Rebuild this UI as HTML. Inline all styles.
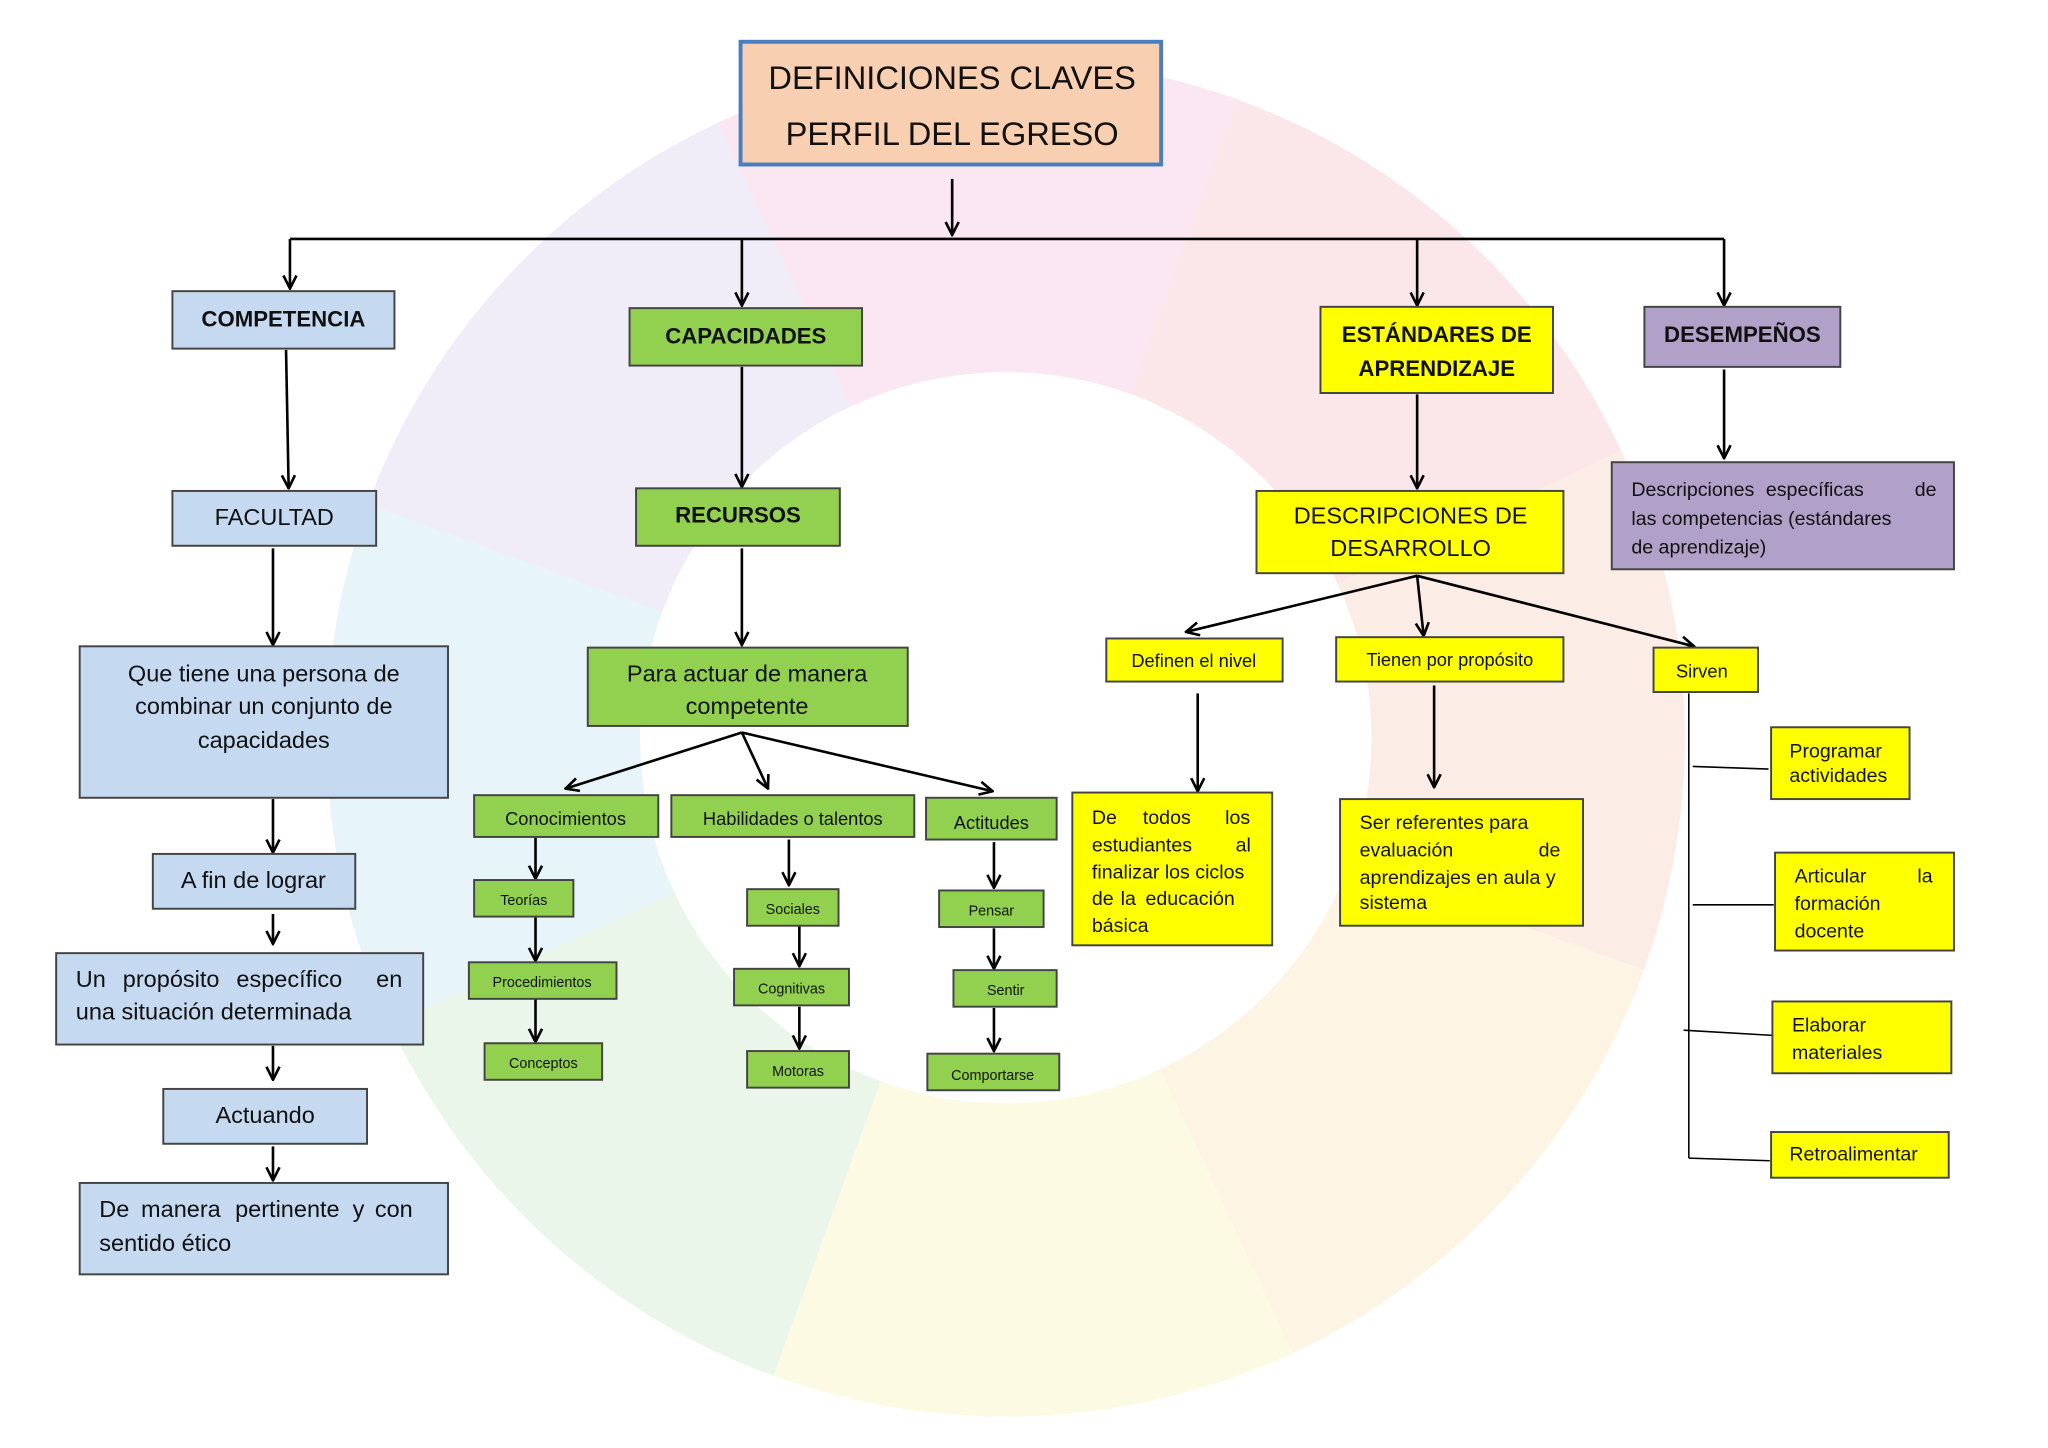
<!DOCTYPE html>
<html><head><meta charset="utf-8"><style>
html,body{margin:0;padding:0;background:#fff;}
svg{display:block;}
text{font-family:"Liberation Sans",sans-serif;fill:#111;}
</style></head><body>
<svg width="2048" height="1448" viewBox="0 0 1568 1109" preserveAspectRatio="none" xmlns="http://www.w3.org/2000/svg">
<defs>
<marker id="a" viewBox="0 0 12 12" refX="11" refY="6" markerWidth="12" markerHeight="12" markerUnits="userSpaceOnUse" orient="auto">
<polyline points="1,1 11,6 1,11" fill="none" stroke="#000" stroke-width="2"/>
</marker>
</defs>
<rect width="1568" height="1109" fill="#fff"/>
<g fill="none" stroke-width="240" opacity="0.10">
<circle cx="770" cy="565" r="400" stroke="#7a55c0" stroke-dasharray="315 2600" transform="rotate(200 770 565)"/>
<circle cx="770" cy="565" r="400" stroke="#e0208a" stroke-dasharray="315 2600" transform="rotate(245 770 565)"/>
<circle cx="770" cy="565" r="400" stroke="#e02030" stroke-dasharray="315 2600" transform="rotate(290 770 565)"/>
<circle cx="770" cy="565" r="400" stroke="#e8501a" stroke-dasharray="315 2600" transform="rotate(335 770 565)"/>
<circle cx="770" cy="565" r="400" stroke="#f0a000" stroke-dasharray="315 2600" transform="rotate(20 770 565)"/>
<circle cx="770" cy="565" r="400" stroke="#f0d000" stroke-dasharray="315 2600" transform="rotate(65 770 565)"/>
<circle cx="770" cy="565" r="400" stroke="#40b040" stroke-dasharray="315 2600" transform="rotate(110 770 565)"/>
<circle cx="770" cy="565" r="400" stroke="#20a0d0" stroke-dasharray="315 2600" transform="rotate(155 770 565)"/>
</g>
<g stroke="#000" stroke-width="2" fill="none">
<line x1="729" y1="137" x2="729" y2="180" marker-end="url(#a)"/>
<line x1="222" y1="183" x2="1320" y2="183"/>
<line x1="222" y1="183" x2="222" y2="221" marker-end="url(#a)"/>
<line x1="568" y1="183" x2="568" y2="234" marker-end="url(#a)"/>
<line x1="1085" y1="183" x2="1085" y2="234" marker-end="url(#a)"/>
<line x1="1320" y1="183" x2="1320" y2="234" marker-end="url(#a)"/>
<line x1="219" y1="268" x2="221" y2="374" marker-end="url(#a)"/>
<line x1="209" y1="420" x2="209" y2="494" marker-end="url(#a)"/>
<line x1="209" y1="612" x2="209" y2="653" marker-end="url(#a)"/>
<line x1="209" y1="700" x2="209" y2="723" marker-end="url(#a)"/>
<line x1="209" y1="801" x2="209" y2="827" marker-end="url(#a)"/>
<line x1="209" y1="878" x2="209" y2="904" marker-end="url(#a)"/>
<line x1="568" y1="281" x2="568" y2="373" marker-end="url(#a)"/>
<line x1="568" y1="420" x2="568" y2="494" marker-end="url(#a)"/>
<line x1="568" y1="561" x2="433" y2="604" marker-end="url(#a)"/>
<line x1="568" y1="561" x2="588" y2="604" marker-end="url(#a)"/>
<line x1="568" y1="561" x2="760" y2="606" marker-end="url(#a)"/>
<line x1="410" y1="641" x2="410" y2="673" marker-end="url(#a)"/>
<line x1="410" y1="702" x2="410" y2="736" marker-end="url(#a)"/>
<line x1="410" y1="765" x2="410" y2="798" marker-end="url(#a)"/>
<line x1="604" y1="643" x2="604" y2="678" marker-end="url(#a)"/>
<line x1="612" y1="709" x2="612" y2="740" marker-end="url(#a)"/>
<line x1="612" y1="771" x2="612" y2="803" marker-end="url(#a)"/>
<line x1="761" y1="645" x2="761" y2="680" marker-end="url(#a)"/>
<line x1="761" y1="711" x2="761" y2="742" marker-end="url(#a)"/>
<line x1="761" y1="772" x2="761" y2="805" marker-end="url(#a)"/>
<line x1="1085" y1="302" x2="1085" y2="374" marker-end="url(#a)"/>
<line x1="1085" y1="441" x2="908" y2="484" marker-end="url(#a)"/>
<line x1="1085" y1="441" x2="1090" y2="487" marker-end="url(#a)"/>
<line x1="1085" y1="441" x2="1297" y2="495" marker-end="url(#a)"/>
<line x1="917" y1="531" x2="917" y2="606" marker-end="url(#a)"/>
<line x1="1098" y1="525" x2="1098" y2="603" marker-end="url(#a)"/>
<line x1="1320" y1="283" x2="1320" y2="351" marker-end="url(#a)"/>
</g>
<g stroke="#000" stroke-width="1.2" fill="none">
<line x1="1293" y1="531" x2="1293" y2="887"/>
<line x1="1296" y1="587" x2="1354" y2="589"/>
<line x1="1296" y1="693" x2="1358" y2="693"/>
<line x1="1289" y1="789" x2="1357" y2="793"/>
<line x1="1293" y1="887" x2="1355" y2="889"/>
</g>
<g stroke="#444" stroke-width="1.5">
<rect x="567" y="32" width="322" height="94" fill="#f8cfb0" stroke="#4a7ec0" stroke-width="3"/>
<rect x="132" y="223" width="170" height="44" fill="#c5d9f0"/>
<rect x="132" y="376" width="156" height="42" fill="#c5d9f0"/>
<rect x="61" y="495" width="282" height="116" fill="#c5d9f0"/>
<rect x="117" y="654" width="155" height="42" fill="#c5d9f0"/>
<rect x="43" y="730" width="281" height="70" fill="#c5d9f0"/>
<rect x="125" y="834" width="156" height="42" fill="#c5d9f0"/>
<rect x="61" y="906" width="282" height="70" fill="#c5d9f0"/>
<rect x="482" y="236" width="178" height="44" fill="#92d050"/>
<rect x="487" y="374" width="156" height="44" fill="#92d050"/>
<rect x="450" y="496" width="245" height="60" fill="#92d050"/>
<rect x="363" y="609" width="141" height="32" fill="#92d050"/>
<rect x="514" y="609" width="186" height="32" fill="#92d050"/>
<rect x="709" y="611" width="100" height="32" fill="#92d050"/>
<rect x="363" y="674" width="76" height="28" fill="#92d050"/>
<rect x="359" y="737" width="113" height="28" fill="#92d050"/>
<rect x="371" y="799" width="90" height="28" fill="#92d050"/>
<rect x="572" y="681" width="70" height="28" fill="#92d050"/>
<rect x="562" y="742" width="88" height="28" fill="#92d050"/>
<rect x="572" y="805" width="78" height="28" fill="#92d050"/>
<rect x="719" y="682" width="80" height="28" fill="#92d050"/>
<rect x="730" y="743" width="79" height="28" fill="#92d050"/>
<rect x="710" y="807" width="101" height="28" fill="#92d050"/>
<rect x="1011" y="235" width="178" height="66" fill="#ffff00"/>
<rect x="962" y="376" width="235" height="63" fill="#ffff00"/>
<rect x="847" y="489" width="135" height="33" fill="#ffff00"/>
<rect x="1023" y="488" width="174" height="34" fill="#ffff00"/>
<rect x="1266" y="496" width="80" height="34" fill="#ffff00"/>
<rect x="821" y="607" width="153" height="117" fill="#ffff00"/>
<rect x="1026" y="612" width="186" height="97" fill="#ffff00"/>
<rect x="1356" y="557" width="106" height="55" fill="#ffff00"/>
<rect x="1359" y="653" width="137" height="75" fill="#ffff00"/>
<rect x="1357" y="767" width="137" height="55" fill="#ffff00"/>
<rect x="1356" y="867" width="136" height="35" fill="#ffff00"/>
<rect x="1259" y="235" width="150" height="46" fill="#b1a0c7"/>
<rect x="1234" y="354" width="262" height="82" fill="#b1a0c7"/>
</g>
<g text-anchor="middle">
<text x="729" y="68" font-size="25">DEFINICIONES  CLAVES</text>
<text x="729" y="111" font-size="25">PERFIL DEL EGRESO</text>
<g font-weight="bold" font-size="17">
<text x="217" y="250">COMPETENCIA</text>
<text x="571" y="263">CAPACIDADES</text>
<text x="565" y="400">RECURSOS</text>
<text x="1100" y="262">ESTÁNDARES DE</text>
<text x="1100" y="288">APRENDIZAJE</text>
<text x="1334" y="262">DESEMPEÑOS</text>
</g>
<g font-size="18">
<text x="210" y="402">FACULTAD</text>
<text x="202" y="522">Que tiene una persona de</text>
<text x="202" y="547">combinar un conjunto de</text>
<text x="202" y="573">capacidades</text>
<text x="194" y="680">A fin de lograr</text>
<text x="203" y="860">Actuando</text>
<text x="572" y="522">Para actuar de manera</text>
<text x="572" y="547">competente</text>
<text x="1080" y="401">DESCRIPCIONES DE</text>
<text x="1080" y="426">DESARROLLO</text>
</g>
<g font-size="14">
<text x="433" y="632">Conocimientos</text>
<text x="607" y="632">Habilidades o talentos</text>
<text x="759" y="635">Actitudes</text>
<text x="914" y="511">Definen el nivel</text>
<text x="1110" y="510">Tienen por propósito</text>
<text x="1303" y="519">Sirven</text>
</g>
<g font-size="11">
<text x="401" y="693">Teorías</text>
<text x="415" y="756">Procedimientos</text>
<text x="416" y="818">Conceptos</text>
<text x="607" y="700">Sociales</text>
<text x="606" y="761">Cognitivas</text>
<text x="611" y="824">Motoras</text>
<text x="759" y="701">Pensar</text>
<text x="770" y="762">Sentir</text>
<text x="760" y="827">Comportarse</text>
</g>
</g>
<g font-size="18">
<text y="756"><tspan x="58">Un</tspan><tspan x="94">propósito</tspan><tspan x="181">específico</tspan><tspan x="288">en</tspan></text>
<text x="58" y="781">una situación determinada</text>
<text y="932"><tspan x="76">De</tspan><tspan x="108">manera</tspan><tspan x="180">pertinente</tspan><tspan x="270">y</tspan><tspan x="287">con</tspan></text>
<text x="76" y="958">sentido ético</text>
</g>
<g font-size="15">
<text y="380"><tspan x="1249">Descripciones</tspan><tspan x="1352">específicas</tspan><tspan x="1466">de</tspan></text>
<text x="1249" y="402">las competencias (estándares</text>
<text x="1249" y="424">de aprendizaje)</text>
<text y="631"><tspan x="836">De</tspan><tspan x="875">todos</tspan><tspan x="938">los</tspan></text>
<text y="652"><tspan x="836">estudiantes</tspan><tspan x="946">al</tspan></text>
<text x="836" y="673">finalizar los ciclos</text>
<text y="693"><tspan x="836">de</tspan><tspan x="858">la</tspan><tspan x="877">educación</tspan></text>
<text x="836" y="714">básica</text>
<text x="1041" y="635">Ser referentes para</text>
<text y="656"><tspan x="1041">evaluación</tspan><tspan x="1178">de</tspan></text>
<text x="1041" y="677">aprendizajes en aula y</text>
<text x="1041" y="696">sistema</text>
<text x="1370" y="580">Programar</text>
<text x="1370" y="599">actividades</text>
<text y="676"><tspan x="1374">Articular</tspan><tspan x="1468">la</tspan></text>
<text x="1374" y="697">formación</text>
<text x="1374" y="718">docente</text>
<text x="1372" y="790">Elaborar</text>
<text x="1372" y="811">materiales</text>
<text x="1370" y="889">Retroalimentar</text>
</g>
</svg>
</body></html>
